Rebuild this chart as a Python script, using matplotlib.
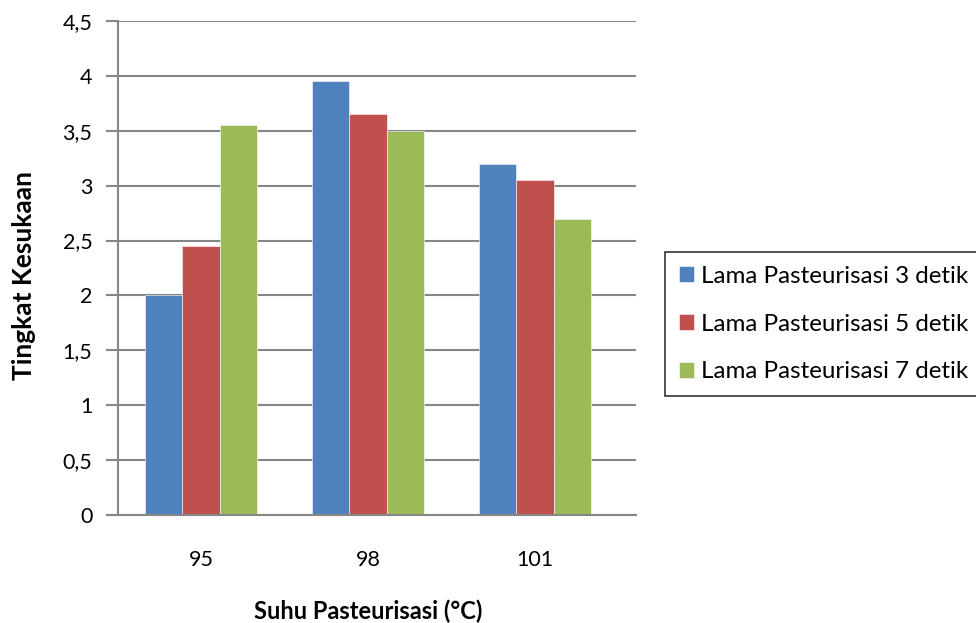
import matplotlib
matplotlib.use("Agg")
import matplotlib.pyplot as plt
import numpy as np

categories = ["95", "98", "101"]
series_names = ["Lama Pasteurisasi 3 detik",
                "Lama Pasteurisasi 5 detik",
                "Lama Pasteurisasi 7 detik"]
values_3s = [2.0, 3.95, 3.2]
values_5s = [2.45, 3.65, 3.05]
values_7s = [3.55, 3.5, 2.7]
y_ticks = [0, 0.5, 1, 1.5, 2, 2.5, 3, 3.5, 4, 4.5]
y_tick_labels = ["0", "0,5", "1", "1,5", "2", "2,5", "3", "3,5", "4", "4,5"]

colors = ["#4F81BD", "#C0504D", "#9BBB59"]
grid_color = "#868686"

plt.rcParams["font.family"] = ["Lato", "DejaVu Sans"]

W, H = 976, 623
fig = plt.figure(figsize=(W / 100, H / 100), dpi=100)
ax = fig.add_axes([118 / W, (H - 515) / H, 518 / W, 494 / H])

x = np.arange(len(categories))
bar_w = 0.222
for i, (vals, name, c) in enumerate(zip([values_3s, values_5s, values_7s], series_names, colors)):
    ax.bar(x + (i - 1) * bar_w, vals, width=bar_w, color=c, label=name,
           edgecolor="white", linewidth=0.4, zorder=3)

ax.set_xlim(-0.497, 2.605)
ax.set_ylim(0, 4.5)
ax.set_yticks(y_ticks)
ax.set_yticklabels(y_tick_labels)
ax.set_xticks(x)
ax.set_xticklabels(categories)

ax.yaxis.grid(True, color=grid_color, linewidth=1.5, zorder=0)
ax.set_axisbelow(True)
for s in ["top", "right"]:
    ax.spines[s].set_visible(False)
ax.spines["left"].set_color(grid_color)
ax.spines["left"].set_linewidth(1.5)
ax.spines["bottom"].set_visible(False)
ax.axhline(0, xmin=-9 / 518, xmax=1, color=grid_color, linewidth=1.5,
           clip_on=False, zorder=4)

ax.tick_params(axis="y", length=9, width=1.5, color=grid_color, labelsize=15.5, pad=9.5)
ax.tick_params(axis="x", length=0, labelsize=15.5, pad=25)

fig.text(24 / W, 1 - 276 / H, "Tingkat Kesukaan", rotation=90, fontsize=19,
         fontweight="bold", ha="center", va="center")
fig.text(368 / W, 1 - 611 / H, "Suhu Pasteurisasi (°C)", fontsize=17,
         fontweight="bold", ha="center", va="center")

leg = fig.legend(loc="upper left", bbox_to_anchor=(665 / W, 1 - 252 / H),
                 fontsize=17.4, frameon=True, fancybox=False, edgecolor="black",
                 handlelength=0.62, handleheight=0.62, handletextpad=0.3,
                 labelspacing=1.11, borderpad=0.57, borderaxespad=0)
leg.get_frame().set_linewidth(1.2)

fig.savefig("out.png", dpi=100)
